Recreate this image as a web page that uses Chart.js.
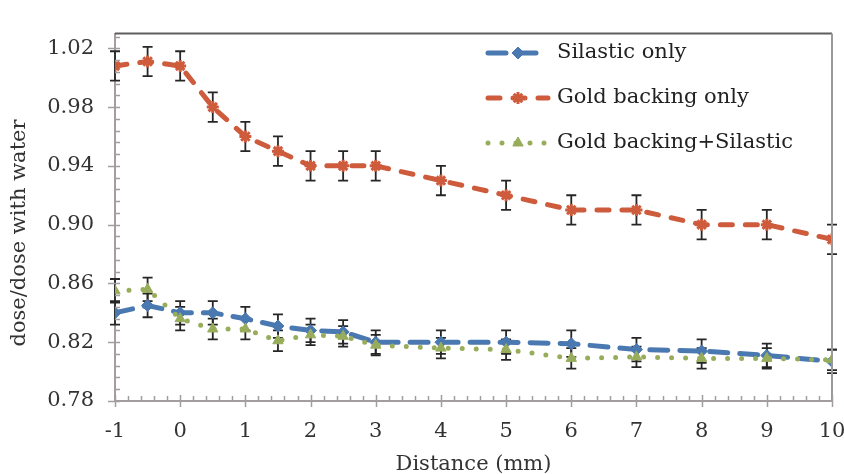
<!DOCTYPE html>
<html>
<head>
<meta charset="utf-8">
<script src="https://cdn.jsdelivr.net/npm/chart.js@4/dist/chart.umd.min.js"></script>
<style>
  html, body { margin: 0; padding: 0; background: #fff; }
</style>
</head>
<body>
<canvas id="c" width="844" height="474"></canvas>
<script>
// Relative dose vs. distance, three backing configurations
const distance      = [-1, -0.5, 0, 0.5, 1, 1.5, 2, 2.5, 3, 4, 5, 6, 7, 8, 9, 10];
const silasticOnly  = [0.840, 0.845, 0.840, 0.840, 0.836, 0.831, 0.828, 0.827, 0.820, 0.820, 0.820, 0.819, 0.815, 0.814, 0.811, 0.807];
const goldOnly      = [1.008, 1.011, 1.008, 0.980, 0.960, 0.950, 0.940, 0.940, 0.940, 0.930, 0.920, 0.910, 0.910, 0.900, 0.900, 0.890];
const goldSilastic  = [0.855, 0.856, 0.836, 0.829, 0.829, 0.821, 0.825, 0.824, 0.818, 0.816, 0.815, 0.809, 0.810, 0.809, 0.809, 0.808];
const silasticErr   = [0.008, 0.008, 0.008, 0.008, 0.008, 0.008, 0.008, 0.008, 0.008, 0.008, 0.008, 0.009, 0.008, 0.008, 0.008, 0.008];
const goldErr       = [0.010, 0.010, 0.010, 0.010, 0.010, 0.010, 0.010, 0.010, 0.010, 0.010, 0.010, 0.010, 0.010, 0.010, 0.010, 0.010];
const goldSilErr    = [0.008, 0.008, 0.008, 0.007, 0.007, 0.007, 0.007, 0.007, 0.007, 0.007, 0.007, 0.007, 0.007, 0.007, 0.007, 0.007];
const yTicks        = [0.78, 0.82, 0.86, 0.90, 0.94, 0.98, 1.02];
const xTicks        = [-1, 0, 1, 2, 3, 4, 5, 6, 7, 8, 9, 10];

const FONT = 'DejaVu Serif';
const TXT  = '#333';
const AXIS = '#a39d9d';

const pts = (ys) => ys.map((y, i) => ({ x: distance[i], y }));

// error bars, drawn under the lines
const errorBars = {
  id: 'errorBars',
  beforeDatasetsDraw(chart) {
    const { ctx, scales: { x, y } } = chart;
    ctx.save();
    ctx.strokeStyle = '#262626';
    ctx.lineWidth = 1.8;
    chart.data.datasets.forEach(ds => {
      ds.data.forEach((p, i) => {
        const e = ds.errors[i];
        const px = x.getPixelForValue(p.x);
        const top = y.getPixelForValue(p.y + e), bot = y.getPixelForValue(p.y - e);
        ctx.beginPath();
        ctx.moveTo(px, top); ctx.lineTo(px, bot);
        ctx.moveTo(px - 5, top); ctx.lineTo(px + 5, top);
        ctx.moveTo(px - 5, bot); ctx.lineTo(px + 5, bot);
        ctx.stroke();
      });
    });
    ctx.restore();
  }
};

// plot frame, major/minor tick marks, axis titles
const frame = {
  id: 'frame',
  afterDraw(chart) {
    const { ctx, chartArea: a, scales: { x, y } } = chart;
    ctx.save();
    ctx.lineWidth = 2;
    ctx.strokeStyle = '#5e5e5e';
    ctx.beginPath(); ctx.moveTo(a.left, a.top); ctx.lineTo(a.right, a.top); ctx.stroke();
    ctx.strokeStyle = '#9a9a9a';
    ctx.beginPath(); ctx.moveTo(a.right, a.top); ctx.lineTo(a.right, a.bottom); ctx.stroke();

    ctx.strokeStyle = AXIS;
    ctx.lineWidth = 1.5;
    ctx.beginPath();
    for (let v = 0.78; v <= 1.0305; v += 0.008) {
      const py = Math.round(y.getPixelForValue(v)) + 0.5;
      ctx.moveTo(a.left, py); ctx.lineTo(a.left + 5, py);
    }
    yTicks.forEach(v => {
      const py = Math.round(y.getPixelForValue(v)) + 0.5;
      ctx.moveTo(a.left - 7, py); ctx.lineTo(a.left + 5, py);
    });
    for (let v = -1; v <= 10.001; v += 0.2) {
      const px = Math.round(x.getPixelForValue(v)) + 0.5;
      ctx.moveTo(px, a.bottom); ctx.lineTo(px, a.bottom - 5);
    }
    xTicks.forEach(v => {
      const px = Math.round(x.getPixelForValue(v)) + 0.5;
      ctx.moveTo(px, a.bottom - 6); ctx.lineTo(px, a.bottom + 6);
    });
    ctx.stroke();

    ctx.fillStyle = TXT;
    ctx.font = `21px "${FONT}"`;
    ctx.textAlign = 'center';
    ctx.textBaseline = 'alphabetic';
    ctx.fillText('Distance (mm)', (a.left + a.right) / 2, 470);
    ctx.translate(20, 233);
    ctx.rotate(-Math.PI / 2);
    ctx.textBaseline = 'middle';
    ctx.fillText('dose/dose with water', 0, 0);
    ctx.restore();
  }
};

// legend: line sample with marker in the middle, then label
const legendBox = {
  id: 'legendBox',
  afterDraw(chart) {
    const { ctx } = chart;
    const rows = [53, 98, 143];
    ctx.save();
    chart.data.datasets.forEach((ds, i) => {
      const yy = rows[i];
      ctx.strokeStyle = ds.borderColor;
      ctx.lineWidth = ds.borderWidth;
      ctx.lineCap = ds.borderCapStyle;
      ctx.setLineDash(ds.borderDash);
      ctx.beginPath(); ctx.moveTo(488, yy); ctx.lineTo(548, yy); ctx.stroke();
      ctx.setLineDash([]);
      ctx.lineCap = 'butt';
      ctx.fillStyle = ds.pointBackgroundColor;
      ctx.strokeStyle = ds.pointBorderColor;
      ctx.lineWidth = ds.pointBorderWidth;
      Chart.helpers.drawPoint(ctx, {
        pointStyle: ds.pointStyle, radius: ds.pointRadius, rotation: 0,
        borderWidth: ds.pointBorderWidth
      }, 518, yy);
      ctx.fillStyle = '#222';
      ctx.font = `21px "${FONT}"`;
      ctx.textAlign = 'left';
      ctx.textBaseline = 'middle';
      ctx.fillText(ds.label, 557, yy);
    });
    ctx.restore();
  }
};

const BLUE = '#4a78b0', ORANGE = '#cd5b3c', GREEN = '#98ad5c';

new Chart(document.getElementById('c'), {
  type: 'line',
  data: {
    datasets: [
      {
        label: 'Silastic only', data: pts(silasticOnly), errors: silasticErr,
        borderColor: BLUE, borderWidth: 5, borderDash: [18, 12], borderCapStyle: 'round',
        pointStyle: 'rectRot', pointRadius: 6, pointBackgroundColor: BLUE,
        pointBorderColor: BLUE, pointBorderWidth: 1, order: 2
      },
      {
        label: 'Gold backing only', data: pts(goldOnly), errors: goldErr,
        borderColor: ORANGE, borderWidth: 5, borderDash: [12, 13], borderCapStyle: 'round',
        pointStyle: 'star', pointRadius: 6, pointBackgroundColor: ORANGE,
        pointBorderColor: ORANGE, pointBorderWidth: 3, order: 1
      },
      {
        label: 'Gold backing+Silastic', data: pts(goldSilastic), errors: goldSilErr,
        borderColor: GREEN, borderWidth: 5, borderDash: [0, 14], borderCapStyle: 'round',
        pointStyle: 'triangle', pointRadius: 6, pointBackgroundColor: GREEN,
        pointBorderColor: GREEN, pointBorderWidth: 1, order: 0
      }
    ]
  },
  options: {
    responsive: false,
    animation: false,
    layout: { padding: { top: 13, right: 12, left: 0, bottom: 0 } },
    plugins: { legend: { display: false }, tooltip: { enabled: false } },
    scales: {
      x: {
        type: 'linear', min: -1, max: 10,
        afterBuildTicks: s => { s.ticks = xTicks.map(v => ({ value: v })); },
        afterFit: s => { s.height = 73; s.paddingLeft = 0; s.paddingRight = 0; },
        grid: { display: false, drawTicks: false },
        border: { color: AXIS, width: 2 },
        ticks: { color: TXT, font: { family: FONT, size: 21 }, padding: 18, maxRotation: 0 }
      },
      y: {
        min: 0.78, max: 1.03,
        afterBuildTicks: s => { s.ticks = yTicks.map(v => ({ value: v })); },
        afterFit: s => { s.width = 115; },
        grid: { display: false, drawTicks: false },
        border: { color: AXIS, width: 2 },
        ticks: { color: TXT, font: { family: FONT, size: 21 }, padding: 21,
                 callback: v => v.toFixed(2) }
      }
    }
  },
  plugins: [errorBars, frame, legendBox]
});
</script>
</body>
</html>
